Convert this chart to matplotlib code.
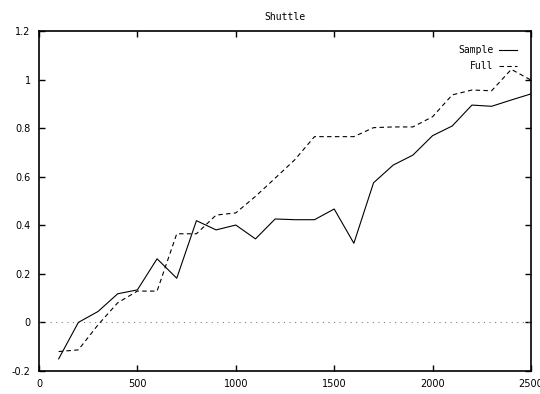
import numpy as np
import matplotlib
matplotlib.use("Agg")
import matplotlib.pyplot as plt

sizes = [100, 200, 300, 400, 500, 600, 700, 800, 900, 1000, 1100, 1200, 1300,
         1400, 1500, 1600, 1700, 1800, 1900, 2000, 2100, 2200, 2300, 2400, 2500]
sample = [-0.15, 0.0, 0.045, 0.118, 0.134, 0.262, 0.182, 0.419, 0.381, 0.401,
          0.344, 0.426, 0.423, 0.423, 0.467, 0.326, 0.575, 0.648, 0.689, 0.769,
          0.809, 0.895, 0.890, 0.916, 0.941]
full = [-0.12, -0.113, -0.01, 0.081, 0.129, 0.129, 0.365, 0.365, 0.442, 0.451,
        0.519, 0.594, 0.670, 0.765, 0.765, 0.765, 0.802, 0.805, 0.805, 0.847,
        0.937, 0.957, 0.954, 1.042, 0.998]

xticks = [0, 500, 1000, 1500, 2000, 2500]
yticks = [-0.2, 0, 0.2, 0.4, 0.6, 0.8, 1, 1.2]
ylabels = ['-0.2', '0', '0.2', '0.4', '0.6', '0.8', '1', '1.2']

fig = plt.figure(figsize=(5.4, 3.94), dpi=100)
ax = fig.add_axes([0.0722, 0.0584, 0.9111, 0.8629])

ax.axhline(0, color='#808080', lw=0.8, ls=(0, (1, 4)))
ax.plot(sizes, sample, color='black', lw=0.8, label='Sample')
ax.plot(sizes, full, color='black', lw=0.8, ls=(0, (4, 3)), label='Full')

ax.set_xlim(0, 2500)
ax.set_ylim(-0.2, 1.2)
ax.set_xticks(xticks)
ax.set_yticks(yticks)
ax.set_yticklabels(ylabels)
ax.tick_params(direction='in', length=4, width=1, top=True, right=True,
               labelsize=7, pad=6)
for s in ax.spines.values():
    s.set_linewidth(1.2)

ax.set_title('Shuttle', fontsize=7, family='DejaVu Sans Mono', pad=8)
ax.legend(loc='upper right', markerfirst=False, frameon=False,
          handlelength=1.8, handletextpad=0.6,
          prop={'family': 'DejaVu Sans Mono', 'size': 7},
          labelspacing=0.6, borderaxespad=1.05)

fig.savefig('out.png', dpi=100)
